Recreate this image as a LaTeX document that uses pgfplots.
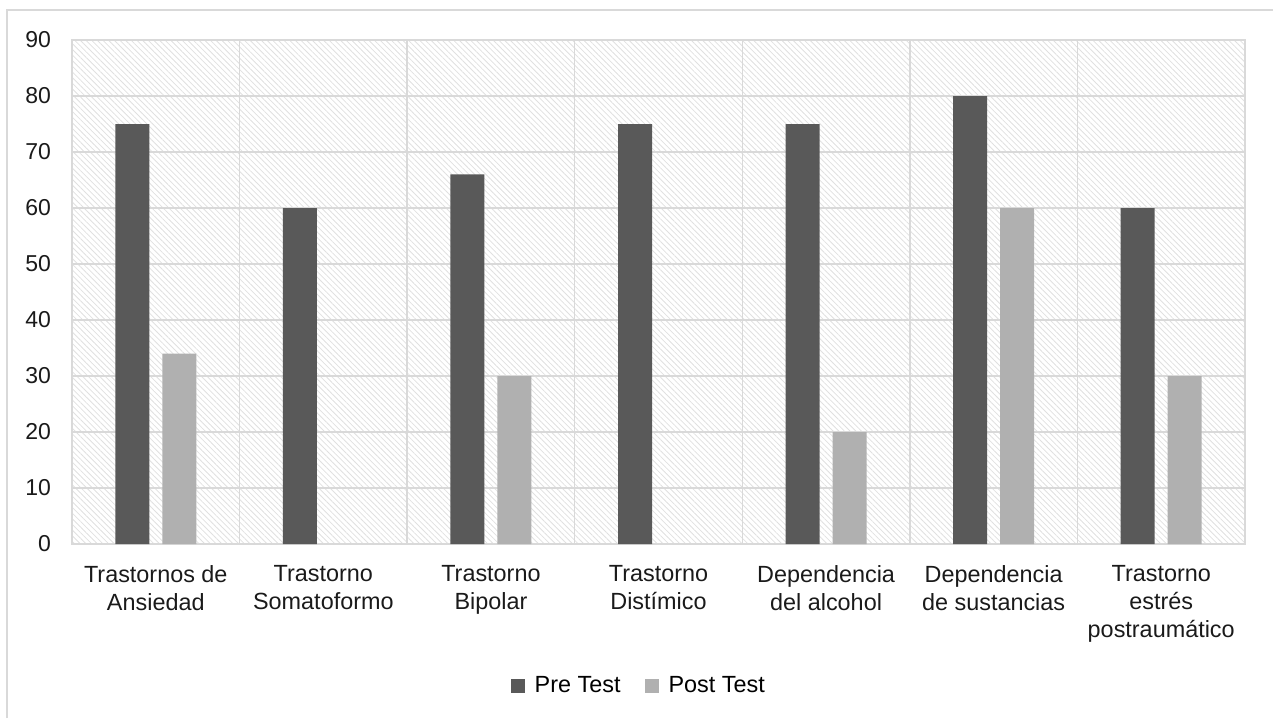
\documentclass[border=0pt]{standalone}
\usepackage{fontspec}
\setmainfont{Liberation Sans}
\usepackage{pgfplots}
\pgfplotsset{compat=1.18}
\usetikzlibrary{patterns.meta}
\definecolor{pre}{HTML}{595959}
\definecolor{post}{HTML}{B0B0B0}
\definecolor{gridc}{HTML}{D9D9D9}
\definecolor{hatch}{HTML}{E0E0E0}
\definecolor{txt}{HTML}{1A1A1A}
\begin{document}
\begin{tikzpicture}
\path[use as bounding box] (0pt,0pt) rectangle (636.5pt,-359pt);
\draw[gridc, line width=0.75pt] (3.5pt,-359pt) -- (3.5pt,-5pt) -- (636.5pt,-5pt);
\begin{axis}[
  at={(36pt,-272pt)}, anchor=south west,
  scale only axis, width=586.5pt, height=252pt,
  ybar=6.5pt, bar width=17pt,
  xmin=-0.5, xmax=6.5, ymin=0, ymax=90,
  ytick={0,10,...,90},
  xtick={0,...,6},
  xticklabels={Trastornos de\\Ansiedad, Trastorno\\Somatoformo, Trastorno\\Bipolar, Trastorno\\Distímico, Dependencia\\del alcohol, Dependencia\\de sustancias, Trastorno\\estrés\\postraumático},
  minor xtick={0.5,1.5,...,5.5},
  xminorgrids, ymajorgrids,
  major grid style={gridc, line width=0.75pt},
  minor grid style={gridc, line width=0.75pt},
  axis line style={gridc, line width=0.75pt},
  major tick length=0pt, minor tick length=0pt,
  tick style={draw=none},
  axis background/.style={pattern={Lines[angle=-45, distance=2pt, line width=0.4pt]}, pattern color=hatch},
  /pgf/number format/assume math mode=true,
  tick label style={font=\fontsize{11.7}{14}\selectfont, text=txt},
  xticklabel style={align=center, yshift=-7pt},
  yticklabel style={xshift=-7pt, font=\fontsize{11.5}{13}\selectfont},
  legend style={at={(0.484,-0.2817)}, anchor=center, draw=none, fill=none,
    legend columns=2, font=\fontsize{11.7}{14}\selectfont,
    /tikz/every even column/.append style={column sep=10pt}},
  legend image code/.code={\fill[#1] (0pt,-3.5pt) rectangle (7pt,3.5pt); \path (10pt,0pt);},
]
\addplot[fill=pre, draw=none] coordinates {(0,75) (1,60) (2,66) (3,75) (4,75) (5,80) (6,60)};
\addplot[fill=post, draw=none] coordinates {(0,34) (1,nan) (2,30) (3,nan) (4,20) (5,60) (6,30)};
\legend{Pre Test, Post Test}
\end{axis}
\end{tikzpicture}
\end{document}
